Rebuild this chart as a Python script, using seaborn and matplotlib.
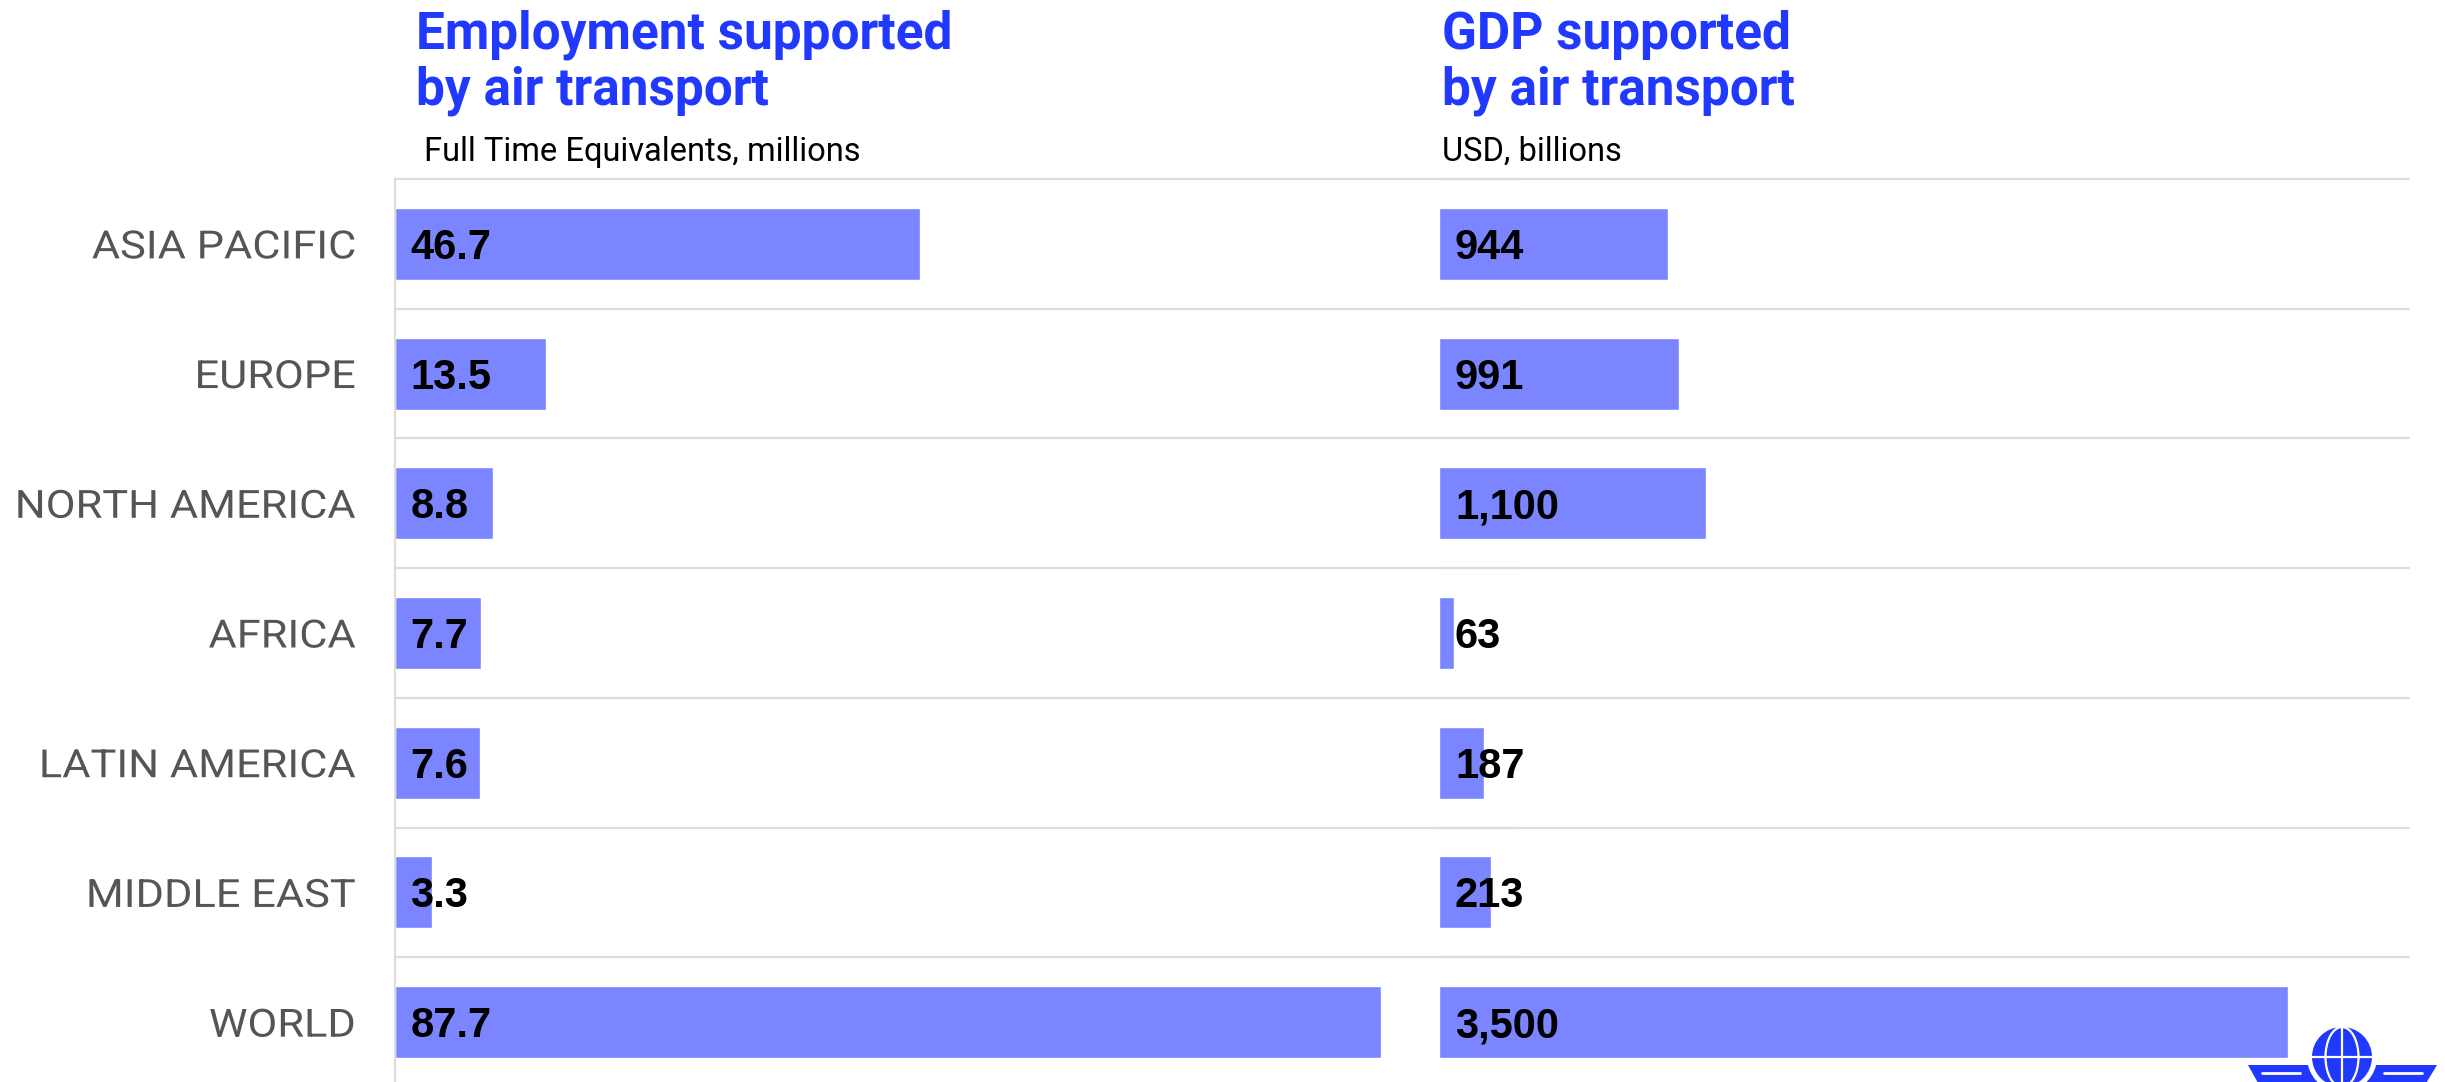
import matplotlib
matplotlib.use('Agg')
import matplotlib.pyplot as plt
import seaborn as sns
import pandas as pd
import numpy as np
from matplotlib.patches import Circle, Polygon, Ellipse, Arc
from matplotlib.patheffects import AbstractPathEffect
from matplotlib.transforms import Affine2D

# ---------------- data ----------------
regions = ["ASIA PACIFIC", "EUROPE", "NORTH AMERICA", "AFRICA",
           "LATIN AMERICA", "MIDDLE EAST", "WORLD"]
employment = [46.7, 13.5, 8.8, 7.7, 7.6, 3.3, 87.7]
employment_labels = ["46.7", "13.5", "8.8", "7.7", "7.6", "3.3", "87.7"]
gdp = [944, 991, 1100, 63, 187, 213, 3500]
gdp_labels = ["944", "991", "1,100", "63", "187", "213", "3,500"]

title_lines = [["Employment supported", "by air transport"],
               ["GDP supported", "by air transport"]]
subtitles = ["Full Time Equivalents, millions", "USD, billions"]

# ---------------- style ----------------
W, H = 2445, 1082
sns.set_theme(style='white')
plt.rcParams['font.family'] = ['Roboto', 'DejaVu Sans']

BAR = '#7A85FF'
BLUE = '#2138FF'
GRID = '#DDDDDD'
LABEL = '#555555'


class HStretch(AbstractPathEffect):
    """Widen text horizontally around its right edge (imitates letter tracking)."""

    def __init__(self, sx):
        super().__init__()
        self.sx = sx

    def draw_path(self, renderer, gc, tpath, affine, rgbFace=None):
        ext = tpath.get_extents()
        xr = affine.transform((ext.x1, 0.0))[0]
        new = affine + Affine2D().translate(-xr, 0).scale(self.sx, 1).translate(xr, 0)
        renderer.draw_path(gc, tpath, new, rgbFace)


fig = plt.figure(figsize=(W / 100, H / 100), dpi=100)
fig.patch.set_facecolor('white')


def fx(px):
    return px / W


def fy(py):
    return 1 - py / H


top, bottom = 179, 1087
ax1 = fig.add_axes([fx(394.5), fy(bottom), (1519 - 394.5) / W, (bottom - top) / H])
ax2 = fig.add_axes([fx(1439), fy(bottom), (2409 - 1439) / W, (bottom - top) / H])

df = pd.DataFrame({'region': regions, 'employment': employment, 'gdp': gdp})

sns.barplot(data=df, x='employment', y='region', orient='h', color=BAR,
            saturation=1, width=0.555, errorbar=None, ax=ax1, zorder=2)
sns.barplot(data=df, x='gdp', y='region', orient='h', color=BAR,
            saturation=1, width=0.555, errorbar=None, ax=ax2, zorder=2)

ax1.set_xlim(0, 100)
ax2.set_xlim(0, 4000)

for ax, labels in ((ax1, employment_labels), (ax2, gdp_labels)):
    ax.set_ylim(len(regions) - 0.5, -0.5)
    ax.set_xlabel('')
    ax.set_ylabel('')
    ax.set_xticks([])
    ax.set_facecolor('none')
    for s in ax.spines.values():
        s.set_visible(False)
    for b in np.arange(-0.5, len(regions), 1.0):
        ax.axhline(b, color=GRID, lw=1.6, zorder=1, clip_on=False)
    for i, lab in enumerate(labels):
        ax.annotate(lab, xy=(0, i), xytext=(11.5, -10.8), textcoords='offset points',
                    ha='left', va='baseline', fontsize=30, fontweight='bold',
                    family=['Liberation Sans', 'DejaVu Sans'],
                    color='black', zorder=3)

ax1.spines['left'].set_visible(True)
ax1.spines['left'].set_color(GRID)
ax1.spines['left'].set_linewidth(1.6)
ax1.set_yticks(range(len(regions)), labels=regions)
ax1.tick_params(axis='y', length=0, pad=28, labelsize=28, labelcolor=LABEL)
for t in ax1.get_yticklabels():
    t.set_path_effects([HStretch(1.115)])
ax2.set_yticks([])

# ---------------- titles ----------------
for x0, lines in ((416, title_lines[0]), (1442, title_lines[1])):
    fig.text(fx(x0), fy(49), lines[0], fontsize=37, fontweight='bold',
             color=BLUE, va='baseline', ha='left')
    fig.text(fx(x0), fy(104), lines[1], fontsize=37, fontweight='bold',
             color=BLUE, va='baseline', ha='left')
fig.text(fx(424), fy(161), subtitles[0], fontsize=23.5, color='black',
         va='baseline', ha='left')
fig.text(fx(1442), fy(161), subtitles[1], fontsize=23.5, color='black',
         va='baseline', ha='left')

# ---------------- logo (decoration) ----------------
lax = fig.add_axes([0, 0, 1, 1], zorder=10)
lax.set_xlim(0, W)
lax.set_ylim(H, 0)
lax.axis('off')
cx, cy, r = 2342, 1057, 30
lax.add_patch(Polygon([[2248, 1065], [2320, 1065], [2320, 1090], [2262, 1090]],
                      closed=True, color=BLUE, lw=0))
lax.add_patch(Polygon([[2437, 1065], [2364, 1065], [2364, 1090], [2422, 1090]],
                      closed=True, color=BLUE, lw=0))
lax.plot([2262, 2300], [1073, 1073], color='white', lw=2)
lax.plot([2384, 2422], [1073, 1073], color='white', lw=2)
lax.add_patch(Circle((cx, cy), r + 5, color='white', lw=0))
lax.add_patch(Circle((cx, cy), r, color=BLUE, lw=0))
lax.plot([cx, cx], [cy - r, cy + r], color='white', lw=1.6)
lax.plot([cx - r, cx + r], [cy, cy], color='white', lw=1.6)
lax.add_patch(Ellipse((cx, cy), r * 1.1, 2 * r, fill=False, ec='white', lw=1.6))
lax.add_patch(Arc((cx, cy + 2.2 * r), 3.4 * r, 3.4 * r, theta1=60, theta2=120,
                  ec='white', lw=1.6))
lax.add_patch(Arc((cx, cy - 2.2 * r), 3.4 * r, 3.4 * r, theta1=240, theta2=300,
                  ec='white', lw=1.6))

fig.savefig('out.png', dpi=100, facecolor='white')
